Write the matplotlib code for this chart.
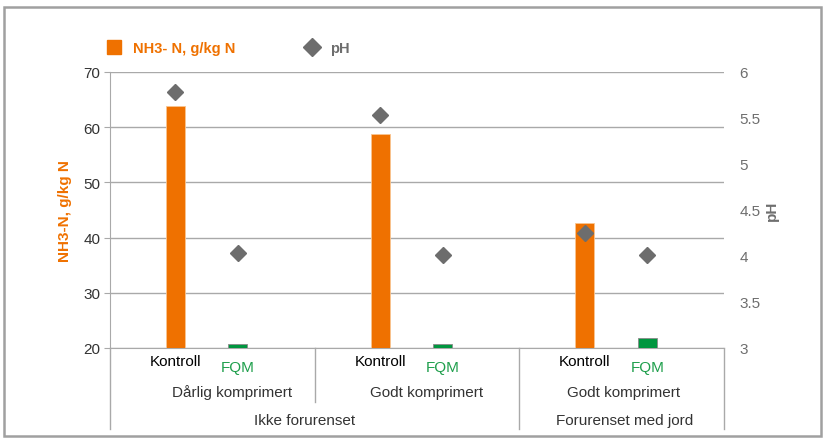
import matplotlib
matplotlib.use('Agg')
import matplotlib.pyplot as plt
from matplotlib.lines import Line2D
from matplotlib.patches import Rectangle
import matplotlib.transforms as mtransforms

plt.rcParams['font.family'] = ['Liberation Sans', 'DejaVu Sans']

# data
treatments = ['Kontroll', 'FQM']
compaction = ['Dårlig komprimert', 'Godt komprimert', 'Godt komprimert']
contamination = ['Ikke forurenset', 'Forurenset med jord']
nh3_kontroll = [63.8, 58.8, 42.7]
nh3_fqm = [20.8, 20.8, 21.9]
ph_kontroll = [5.78, 5.53, 4.25]
ph_fqm = [4.03, 4.01, 4.01]
left_ticks = [20, 30, 40, 50, 60, 70]
right_ticks = [3, 3.5, 4, 4.5, 5, 5.5, 6]

orange = '#EF7100'
green = '#00963F'
green_txt = '#1F9F4C'
diamond = '#6D6D6D'
grid = '#A9A9A9'
txt = '#333333'

fig = plt.figure(figsize=(8.24, 4.39), dpi=100)
fig.patches.append(Rectangle((4/824, 0.005), 817/824, 1 - 8/439 - 0.005, transform=fig.transFigure,
                             fill=False, edgecolor='#A0A0A0', linewidth=1.8))

ax = fig.add_axes([110/824, 90/439, 614/824, 276/439])
ax2 = ax.twinx()

# slot positions inside each pair of categories
k_off, f_off, bar_w = 0.64, 1.25, 0.186
xk = [2*i + k_off for i in range(3)]
xf = [2*i + f_off for i in range(3)]

ax.bar(xk, [v - 20 for v in nh3_kontroll], bar_w, bottom=20, color=orange, edgecolor='#F9C590', linewidth=0.6, zorder=3)
ax.bar(xf, [v - 20 for v in nh3_fqm], bar_w, bottom=20, color=green, edgecolor='#8A8A8A', linewidth=0.6, zorder=3)
ax.set_xlim(0, 6)
ax.set_ylim(20, 70)
ax.set_yticks(left_ticks)
ax.set_yticklabels([str(t) for t in left_ticks], fontsize=11, color=txt)
ax.tick_params(axis='y', length=4, color=grid, pad=3)
ax.set_xticks([])
ax.yaxis.grid(True, color=grid, linewidth=1)
ax.set_axisbelow(True)
for s in ['top', 'right']:
    ax.spines[s].set_visible(False)
ax.spines['left'].set_color(grid)
ax.spines['bottom'].set_color(grid)
ax.set_ylabel('NH3-N, g/kg N', color=orange, fontweight='bold', fontsize=11, labelpad=8)

ax2.plot(xk, ph_kontroll, 'D', color=diamond, markersize=8.5, zorder=4)
ax2.plot(xf, ph_fqm, 'D', color=diamond, markersize=8.5, zorder=4)
ax2.set_ylim(3, 6)
ax2.set_yticks(right_ticks)
ax2.set_yticklabels([f'{t:g}' for t in right_ticks], fontsize=11, color='#6E6E6E')
ax2.tick_params(axis='y', length=0, pad=11)
for s in ['top', 'right', 'left', 'bottom']:
    ax2.spines[s].set_visible(False)
ax2.set_ylabel('pH', color='#6E6E6E', fontweight='bold', fontsize=11, labelpad=3)
ax.set_zorder(ax2.get_zorder() - 1)
ax.patch.set_visible(False)

# multi-level category axis
tr = mtransforms.blended_transform_factory(ax.transData, ax.transAxes)
r1, r2, r3 = -27/276, -54/276, -81/276
for x, y0 in [(0, r3), (2, r2), (4, r3), (6, r3)]:
    ax.add_line(Line2D([x, x], [0, y0], transform=tr, color=grid, linewidth=1, clip_on=False))
for i in range(3):
    ax.text(xk[i], -0.047, treatments[0], transform=tr, ha='center', va='center', fontsize=11, color='black')
    ax.text(xf[i], -0.069, treatments[1], transform=tr, ha='center', va='center', fontsize=11, color=green_txt)
for x, lab in zip([1.19, 3.09, 5.02], compaction):
    ax.text(x, -0.159, lab, transform=tr, ha='center', va='center', fontsize=11, color=txt)
for x, lab in zip([1.90, 5.03], contamination):
    ax.text(x, -0.261, lab, transform=tr, ha='center', va='center', fontsize=11, color=txt)

# legend
handles = [Line2D([], [], marker='s', linestyle='none', color=orange, markersize=9.5),
           Line2D([], [], marker='D', linestyle='none', color=diamond, markersize=9)]
leg = fig.legend(handles, ['NH3- N, g/kg N', 'pH'], loc='center left', bbox_to_anchor=(94/824, 1 - 49/439),
                 ncol=2, frameon=False, handlelength=1.0, handletextpad=0.75, columnspacing=4.8,
                 prop={'size': 10.5, 'weight': 'bold'})
leg.get_texts()[0].set_color(orange)
leg.get_texts()[1].set_color('#6E6E6E')

fig.savefig('out.png', dpi=100)
